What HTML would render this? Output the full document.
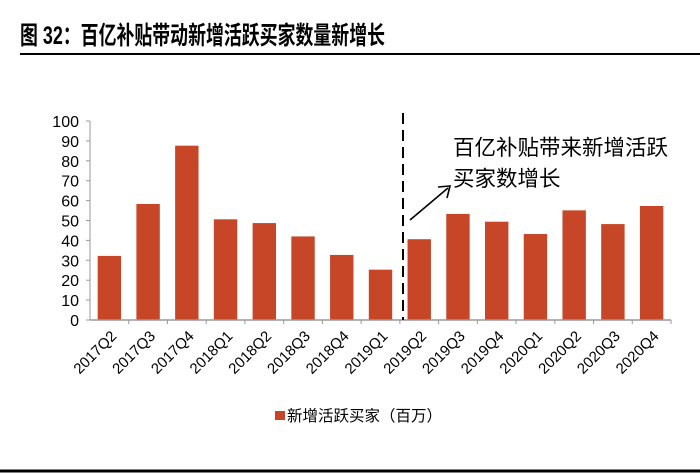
<!DOCTYPE html>
<html><head><meta charset="utf-8">
<style>
html,body{margin:0;padding:0;background:#fff;width:700px;height:474px;overflow:hidden}
svg{display:block;font-family:"Liberation Sans","Noto Sans CJK SC",sans-serif}
</style></head>
<body>
<svg id="chart" width="700" height="474">
  <text x="20" y="44" font-size="25" font-weight="bold" fill="#000" textLength="365" lengthAdjust="spacingAndGlyphs">图 32：百亿补贴带动新增活跃买家数量新增长</text>
  <line x1="20" y1="54" x2="700" y2="54" stroke="#000" stroke-width="2"/>
  <g id="plot"></g>
  <line x1="403" y1="113" x2="403" y2="320" stroke="#000" stroke-width="2" stroke-dasharray="11,6"/>
  <line x1="410" y1="220" x2="448" y2="188" stroke="#000" stroke-width="1.6"/>
  <polyline points="438,187 450,186 447,198" fill="none" stroke="#000" stroke-width="1.6"/>
  <text x="453" y="155" font-size="21.5" fill="#000">百亿补贴带来新增活跃</text>
  <text x="453" y="186" font-size="21.5" fill="#000">买家数增长</text>
  <rect x="275" y="411" width="10" height="9" fill="#c84628"/>
  <text x="287" y="421" font-size="15.5" fill="#000">新增活跃买家（百万）</text>
  <line x1="0" y1="471" x2="700" y2="471" stroke="#000" stroke-width="3"/>
</svg>
<script>
const categories=["2017Q2","2017Q3","2017Q4","2018Q1","2018Q2","2018Q3","2018Q4","2019Q1","2019Q2","2019Q3","2019Q4","2020Q1","2020Q2","2020Q3","2020Q4"];
const values=[32.2,58.3,87.6,50.6,48.7,42,32.7,25.3,40.6,53.3,49.4,43.2,55.1,48.2,57.3];
const yTicks=[0,10,20,30,40,50,60,70,80,90,100];
const NS="http://www.w3.org/2000/svg";
const g=document.getElementById('plot');
const x0=90,x1=671,y0=320,y1=121,yMax=100;
const bw=(x1-x0)/categories.length;
function ys(v){return y0-(v/yMax)*(y0-y1);}
function xc(i){return x0+bw*(i+0.5);}
function mk(t,a){const e=document.createElementNS(NS,t);for(const k in a)e.setAttribute(k,a[k]);g.appendChild(e);return e;}
let e=mk('line',{x1:x0,y1:y1,x2:x0,y2:y0,stroke:'#999','stroke-width':1});


yTicks.forEach(t=>{
  const tl=mk('line',{x1:x0-4,y1:ys(t),x2:x0,y2:ys(t),stroke:'#999'});
  
  
  const tx=mk('text',{x:x0-11,y:ys(t)+6,'text-anchor':'end','font-size':16,fill:'#000'});
  tx.textContent=t;
  
  
});
categories.forEach((c,i)=>{
  const r=mk('rect',{x:xc(i)-11.7,y:ys(values[i]),width:23.4,height:y0-ys(values[i]),fill:'#c84628'});
  
  
  const tk=mk('line',{x1:x0+bw*(i+1),y1:y0,x2:x0+bw*(i+1),y2:y0+4,stroke:'#999'});
  
  
  const cx=xc(i)+8,cy=y0+17;
  const lb=mk('text',{x:cx,y:cy,'text-anchor':'end','font-size':15,fill:'#000',transform:'rotate(-45 '+cx+' '+cy+')'});
  lb.textContent=c;
  
  
});
e=mk('line',{x1:x0,y1:y0,x2:x1,y2:y0,stroke:'#999','stroke-width':1.5});


</script>
</body></html>
